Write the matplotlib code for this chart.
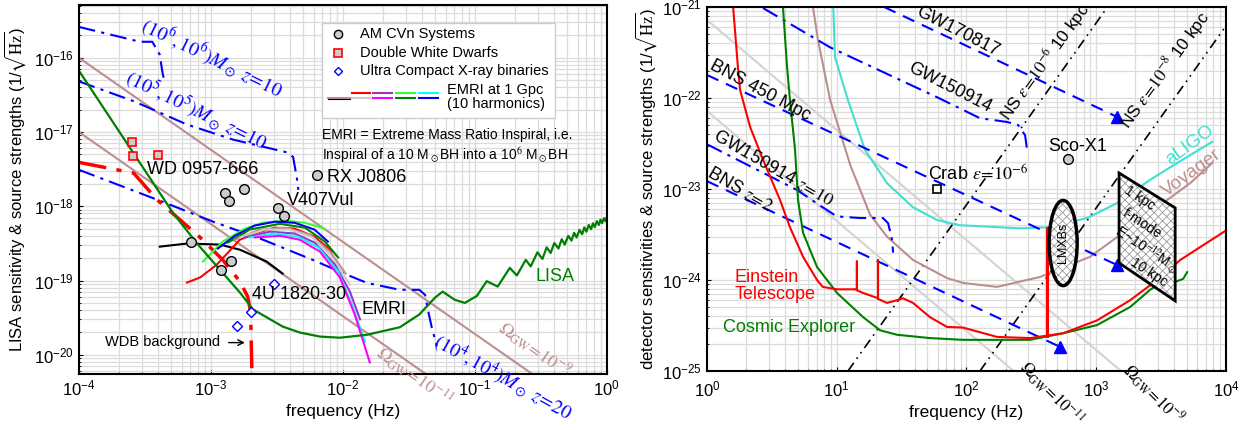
import matplotlib
matplotlib.use('Agg')
import matplotlib.pyplot as plt
from matplotlib.patches import Rectangle, Ellipse, Polygon
from matplotlib.lines import Line2D
from matplotlib.ticker import NullFormatter

plt.rcParams['font.family'] = ['Liberation Sans', 'DejaVu Sans']
plt.rcParams['mathtext.fontset'] = 'stix'
plt.rcParams['hatch.linewidth'] = 0.6

# ---------------- left panel: LISA band ----------------
lisa_f = [1e-4, 5.15e-4, 7.8e-4, 1.17e-3, 1.66e-3, 2.08e-3, 3.5e-3, 4.7e-3, 6.7e-3, 9.5e-3,
          1.52e-2, 2.7e-2, 3.8e-2, 5.0e-2, 0.057, 0.0705, 0.084, 0.1035, 0.123, 0.149, 0.184,
          0.208, 0.243, 0.265, 0.298, 0.325, 0.35, 0.375, 0.40, 0.43, 0.455, 0.48, 0.51, 0.54,
          0.565, 0.59, 0.62, 0.65, 0.675, 0.70, 0.73, 0.76, 0.785, 0.81, 0.84, 0.87, 0.895,
          0.92, 0.95, 0.975, 1.0]
lisa_h = [6.7e-17, 8.2e-19, 3.2e-19, 1.4e-19, 6.9e-20, 4.1e-20, 2.4e-20, 2.0e-20, 1.76e-20, 1.7e-20,
          1.86e-20, 2.35e-20, 3.5e-20, 5.9e-20, 7.1e-20, 5.5e-20, 5.0e-20, 6.2e-20, 9.8e-20, 8.3e-20, 1.48e-19,
          1.17e-19, 1.9e-19, 1.55e-19, 2.4e-19, 1.95e-19, 2.8e-19, 2.35e-19, 3.2e-19, 2.7e-19, 3.6e-19, 3.05e-19, 4.0e-19, 3.45e-19,
          4.4e-19, 3.8e-19, 4.8e-19, 4.2e-19, 5.2e-19, 4.55e-19, 5.6e-19, 4.9e-19, 5.9e-19, 5.25e-19, 6.3e-19, 5.6e-19, 6.6e-19,
          5.95e-19, 6.9e-19, 6.3e-19, 7.2e-19]

omega_left_f = [1e-4, 1.0]
omega9_left_h = [1e-16, 1.1e-21]
omega11_left_h = [1e-17, 1.1e-22]

mbh6_f = [1e-4, 2.9e-4, 3.6e-4, 4.1e-4, 4.3e-4, 4.45e-4]
mbh6_h = [2.6e-16, 1.64e-16, 1.64e-16, 1.1e-16, 6.3e-17, 4.8e-17]
mbh5_f = [1e-4, 2.6e-4, 6.6e-4, 1.47e-3, 3.8e-3, 4.2e-3, 4.5e-3, 4.6e-3]
mbh5_h = [4.8e-17, 2.6e-17, 1.26e-17, 7.9e-18, 5.3e-18, 4.6e-18, 2.3e-18, 1.66e-18]
mbh4_f = [1e-4, 4.3e-4, 1.04e-3, 2.43e-3, 5.9e-3, 1.07e-2, 1.52e-2, 2.7e-2, 3.8e-2, 4.2e-2, 4.4e-2, 4.7e-2, 5.15e-2]
mbh4_h = [3.1e-18, 1.15e-18, 6.2e-19, 3.6e-19, 1.9e-19, 1.2e-19, 9.3e-20, 7.5e-20, 7.5e-20, 6.4e-20, 4.1e-20, 2.4e-20, 1.3e-20]

wdb_f = [1e-4, 2.6e-4, 3.9e-4, 8.3e-4, 1.23e-3, 1.66e-3, 1.9e-3, 2.0e-3, 2.02e-3, 2.05e-3]
wdb_h = [3.9e-18, 2.8e-18, 1.23e-18, 3.8e-19, 1.9e-19, 9.7e-20, 6.1e-20, 3.8e-20, 1.6e-20, 5e-21]

# EMRI harmonics
emri_black_f = [4.1e-4, 6.6e-4, 1.17e-3, 1.66e-3, 2.65e-3, 3.5e-3]
emri_black_h = [2.86e-19, 3.15e-19, 3.05e-19, 2.6e-19, 1.8e-19, 1.24e-19]
emri_red_f = [6.6e-4, 8.3e-4, 1.11e-3, 1.66e-3, 2.23e-3, 3.05e-3, 4.3e-3, 6.1e-3, 8.3e-3]
emri_red_h = [9.4e-20, 1.1e-19, 1.64e-19, 3.55e-19, 4.4e-19, 5.15e-19, 5.0e-19, 3.9e-19, 2.45e-19]
emri_lime_f = [8.7e-4, 1.23e-3, 1.81e-3, 2.48e-3, 3.64e-3, 5.15e-3, 7.3e-3]
emri_lime_h = [1.8e-19, 3.35e-19, 5.0e-19, 6.0e-19, 6.4e-19, 6.0e-19, 5.0e-19]
emri_blue_f = [1.13e-3, 1.52e-3, 2.15e-3, 3.05e-3, 4.3e-3, 6.1e-3, 7.7e-3]
emri_blue_h = [2.7e-19, 4.0e-19, 5.5e-19, 6.2e-19, 6.0e-19, 4.85e-19, 3.35e-19]
emri_green_f = [1.35e-3, 1.97e-3, 3.33e-3, 5.15e-3, 7.3e-3, 9.2e-3]
emri_green_h = [3.25e-19, 4.85e-19, 5.8e-19, 5.15e-19, 3.35e-19, 2.05e-19]
emri_brown_f = [1.52e-3, 2.35e-3, 3.64e-3, 5.6e-3, 8.0e-3, 1.05e-2]
emri_brown_h = [3.55e-19, 4.85e-19, 5.15e-19, 4.15e-19, 2.45e-19, 1.24e-19]
emri_gray_f = [1.66e-3, 2.56e-3, 3.96e-3, 5.9e-3, 8.3e-3, 1.13e-2]
emri_gray_h = [3.8e-19, 4.85e-19, 4.85e-19, 3.8e-19, 2.05e-19, 8.8e-20]
emri_purple_f = [1.81e-3, 2.8e-3, 4.3e-3, 6.1e-3, 8.7e-3, 1.13e-2, 1.35e-2]
emri_purple_h = [3.8e-19, 4.55e-19, 4.3e-19, 3.25e-19, 1.64e-19, 7.1e-20, 3.0e-20]
emri_cyan_f = [1.97e-3, 3.05e-3, 4.56e-3, 6.5e-3, 9.2e-3, 1.17e-2, 1.47e-2]
emri_cyan_h = [3.8e-19, 4.3e-19, 3.9e-19, 2.8e-19, 1.32e-19, 4.75e-20, 1.5e-20]
emri_magenta_f = [2.15e-3, 3.33e-3, 4.7e-3, 6.7e-3, 9.5e-3, 1.23e-2, 1.6e-2]
emri_magenta_h = [3.8e-19, 4.0e-19, 3.55e-19, 2.45e-19, 1.1e-19, 3.5e-20, 7.9e-21]

amcvn_f = [7.05e-4, 1.19e-3, 1.42e-3, 1.28e-3, 1.37e-3, 1.78e-3, 3.2e-3, 3.6e-3, 6.35e-3]
amcvn_h = [3.3e-19, 1.4e-19, 1.86e-19, 1.52e-18, 1.19e-18, 1.72e-18, 9.6e-19, 7.5e-19, 2.66e-18]
dwd_f = [2.52e-4, 2.56e-4, 3.97e-4]
dwd_h = [7.4e-18, 4.7e-18, 4.9e-18]
ucxb_f = [3.0e-3, 2.0e-3, 1.57e-3]
ucxb_h = [9.1e-20, 3.8e-20, 2.45e-20]

left_xticks = [1e-4, 1e-3, 1e-2, 1e-1, 1.0]
left_yticks = [1e-20, 1e-19, 1e-18, 1e-17, 1e-16]

# ---------------- right panel: ground based ----------------
et_f = [1.59, 1.73, 1.8, 2.15, 2.7, 3.65, 4.36, 5.5, 7.05, 7.8, 10.05, 14.3, 14.3, 14.3, 16.0,
        20.8, 20.8, 20.8, 24.4, 29.2, 32.4, 38.7, 52.4, 70.8, 94, 172, 309, 556, 1016, 1825,
        2950, 4440, 1e4]
et_h = [1e-21, 2.2e-22, 1.22e-22, 4.8e-23, 2.1e-23, 7.6e-24, 3.8e-24, 1.8e-24, 1.0e-24, 8.4e-25,
        7.9e-25, 7.9e-25, 1.6e-24, 7.7e-25, 7.2e-25, 6.3e-25, 1.66e-24, 6.2e-25, 5.6e-25, 6.0e-25,
        6.3e-25, 5.6e-25, 3.9e-25, 3.05e-25, 3.0e-25, 2.37e-25, 2.3e-25, 2.6e-25, 3.6e-25, 6.0e-25,
        1.0e-24, 1.66e-24, 3.5e-24]
ce_f = [3.85, 4.14, 4.36, 4.77, 5.03, 5.5, 7.05, 10.05, 16.0, 21.6, 29.2, 52.4, 94, 309, 556,
        1016, 1825, 2600, 3400, 4200, 4680, 5020]
ce_h = [1e-21, 2.2e-22, 9.5e-23, 2.7e-23, 7.6e-24, 3.3e-24, 1.39e-24, 7.2e-25, 3.9e-25, 2.8e-25,
        2.5e-25, 2.3e-25, 2.2e-25, 2.2e-25, 2.6e-25, 3.2e-25, 5.05e-25, 7.8e-25, 1.0e-24, 9.7e-25,
        1.03e-24, 1.22e-24]
aligo_f = [9.4, 9.7, 12.2, 16.5, 24.4, 38.7, 59.3, 89, 259, 426, 851, 1450, 2600, 4200, 7830]
aligo_h = [1e-21, 2.8e-22, 9.5e-23, 2.7e-23, 1.16e-23, 6.3e-24, 4.56e-24, 4.0e-24, 3.7e-24,
           3.8e-24, 4.8e-24, 7.0e-24, 1.26e-23, 1.93e-23, 3.3e-23]
voy_f = [6.56, 7.17, 8.9, 12.7, 18.1, 24.4, 38.7, 70.8, 94, 172, 369, 897, 1610, 2950, 5300, 7830]
voy_h = [1e-21, 4.3e-22, 9.5e-23, 1.84e-23, 5.2e-24, 3.0e-24, 1.66e-24, 1.05e-24, 9.3e-25,
         8.4e-25, 1.08e-24, 1.8e-24, 3.3e-24, 6.3e-24, 1.16e-23, 1.93e-23]

omega_right_f = [1.0, 1e4]
omega9_right_h = [7.2e-22, 1.05e-26]
omega11_right_h = [7.2e-23, 1.05e-27]

gw170817_f = [23.2, 1450]
gw170817_h = [1e-21, 6.2e-23]
bns450_f = [1.0, 1450]
bns450_h = [1.79e-22, 1.46e-24]
bnsz2_f = [1.0, 527]
bnsz2_h = [1.22e-23, 1.84e-25]
gw150914_f = [2.7, 8.9, 59.3, 127, 206, 250, 283, 293]
gw150914_h = [9.75e-22, 3.6e-22, 1.02e-22, 6.0e-23, 5.45e-23, 5.05e-23, 3.9e-23, 2.7e-23]
gw150914z_f = [1.0, 4.94, 7.3, 10.0, 15.1, 22.7, 24.9, 26.7, 27.2]
gw150914z_h = [3.1e-23, 9.75e-24, 6.7e-24, 5.0e-24, 4.8e-24, 4.8e-24, 4.2e-24, 2.75e-24, 2.0e-24]
tri_f = [1450, 1450, 527]
tri_h = [6.2e-23, 1.46e-24, 1.84e-25]

ns6_f = [12.2, 1350]
ns6_h = [1e-25, 1.22e-21]
ns8_f = [127, 1e4]
ns8_h = [1e-25, 6.2e-22]

lmxb_line_f = [418, 418]
lmxb_line_h = [3.7e-24, 2.4e-25]
lmxb_f, lmxb_h = 556, 2.55e-24
crab_f, crab_h = 59.3, 1.0e-23
sco_f, sco_h = 607, 2.14e-23
fmode_f = [1500, 4060, 4060, 1500]
fmode_h = [1.5e-23, 6.2e-24, 5.9e-25, 1.54e-24]

right_xticks = [1, 10, 100, 1000, 1e4]
right_yticks = [1e-25, 1e-24, 1e-23, 1e-22, 1e-21]

DD = (8, 3, 1.5, 3)     # dash-dot
DASH = (6, 4)
DDD = (6, 3, 1, 3, 1, 3)

fig = plt.figure(figsize=(12.52, 4.3), dpi=100)
ax1 = fig.add_axes([0.063, 0.130, 0.4217, 0.858])
ax2 = fig.add_axes([0.5647, 0.1372, 0.4145, 0.8465])

for ax in (ax1, ax2):
    ax.set_xscale('log')
    ax.set_yscale('log')
    ax.grid(True, which='both', color='#dcdcdc', lw=0.9)
    ax.set_axisbelow(True)
    for s in ax.spines.values():
        s.set_linewidth(1.5)
    ax.set_xlabel('frequency (Hz)', fontsize=12.5)

ax1.set_xticks(left_xticks)
ax1.set_yticks(left_yticks)
ax2.set_xticks(right_xticks)
ax2.set_yticks(right_yticks)
for ax in (ax1, ax2):
    ax.xaxis.set_minor_formatter(NullFormatter())
    ax.yaxis.set_minor_formatter(NullFormatter())
    ax.tick_params(which='both', direction='in', labelsize=12)
    ax.tick_params(which='major', length=3)
    ax.tick_params(which='minor', length=1.5)
ax2.tick_params(axis='x', which='major', pad=6)

# ---------- left panel ----------
ax1.set_xlim(1e-4, 1)
ax1.set_ylim(5.5e-21, 5.1e-16)
ax1.set_ylabel(r'LISA sensitivity & source strengths (1/$\sqrt{\mathrm{Hz}}$)', fontsize=12, labelpad=4)

ax1.plot(omega_left_f, omega9_left_h, color='rosybrown', lw=1.5)
ax1.plot(omega_left_f, omega11_left_h, color='rosybrown', lw=1.5)
ax1.plot(mbh6_f, mbh6_h, color='blue', lw=1.5, dashes=DD)
ax1.plot(mbh5_f, mbh5_h, color='blue', lw=1.5, dashes=DD)
ax1.plot(mbh4_f, mbh4_h, color='blue', lw=1.5, dashes=DD)
ax1.plot(wdb_f, wdb_h, color='red', lw=2.5, dashes=DD)

emri = [(emri_black_f, emri_black_h, 'black'),
        (emri_red_f, emri_red_h, 'red'),
        (emri_lime_f, emri_lime_h, '#33ff33'),
        (emri_blue_f, emri_blue_h, 'blue'),
        (emri_green_f, emri_green_h, 'green'),
        (emri_brown_f, emri_brown_h, 'rosybrown'),
        (emri_gray_f, emri_gray_h, '#cccccc'),
        (emri_purple_f, emri_purple_h, '#9933cc'),
        (emri_cyan_f, emri_cyan_h, 'cyan'),
        (emri_magenta_f, emri_magenta_h, 'magenta')]
for f, h, c in emri:
    ax1.plot(f, h, color=c, lw=1.5)

ax1.plot(lisa_f, lisa_h, color='green', lw=1.6)

ax1.plot(amcvn_f, amcvn_h, 'o', ms=7, mfc='#cccccc', mec='k', mew=1)
ax1.plot(dwd_f, dwd_h, 's', ms=6, mfc='#cccccc', mec='red', mew=1.2)
ax1.plot(ucxb_f, ucxb_h, 'D', ms=5, mfc='white', mec='blue', mew=1)

ax1.text(3.27e-4, 3.1e-18, 'WD 0957-666', fontsize=13, va='center')
ax1.text(7.6e-3, 2.43e-18, 'RX J0806', fontsize=13, va='center')
ax1.text(3.77e-3, 1.19e-18, 'V407Vul', fontsize=13, va='center')
ax1.text(2.05e-3, 6.45e-20, '4U 1820-30', fontsize=13, va='center')
ax1.text(1.39e-2, 4.1e-20, 'EMRI', fontsize=13, va='center')
ax1.text(0.404, 1.13e-19, 'LISA', fontsize=13, va='center', ha='center', color='green')
ax1.text(1.57e-4, 1.5e-20, 'WDB background', fontsize=10.5, va='center')
ax1.annotate('', xy=(1.9e-3, 1.46e-20), xytext=(1.3e-3, 1.46e-20),
             arrowprops=dict(arrowstyle='->', color='k', lw=1))

ax1.text(1.02e-3, 1e-16, r'$(10^6,10^6)M_\odot\ z\!=\!10$', color='blue', fontsize=14,
         rotation=-26, ha='center', va='center', rotation_mode='anchor')
ax1.text(7.7e-4, 1.94e-17, r'$(10^5,10^5)M_\odot\ z\!=\!10$', color='blue', fontsize=14,
         rotation=-26, ha='center', va='center', rotation_mode='anchor')
ax1.text(0.163, 4.9e-21, r'$(10^4,10^4)M_\odot\ z\!=\!20$', color='blue', fontsize=14,
         rotation=-29, ha='center', va='center', rotation_mode='anchor', clip_on=False)
ax1.text(0.285, 1.17e-20, r'$\Omega_{\rm GW}\!=\!10^{-9}$', color='rosybrown', fontsize=13,
         rotation=-35, ha='center', va='center', rotation_mode='anchor')
ax1.text(3.5e-2, 5.1e-21, r'$\Omega_{\rm GW}\!=\!10^{-11}$', color='rosybrown', fontsize=13,
         rotation=-35, ha='center', va='center', rotation_mode='anchor', clip_on=False)

# hand made legend box
T = ax1.transAxes
ax1.add_patch(Rectangle((0.460, 0.694), 0.442, 0.257, transform=T, facecolor='white',
                        edgecolor='#cccccc', lw=1, zorder=5))
ax1.plot([0.4905], [0.921], 'o', ms=6, mfc='#cccccc', mec='k', transform=T, zorder=6)
ax1.plot([0.4905], [0.870], 's', ms=5.5, mfc='#cccccc', mec='red', mew=1.2, transform=T, zorder=6)
ax1.plot([0.4905], [0.821], 'D', ms=4.5, mfc='white', mec='blue', transform=T, zorder=6)
ax1.text(0.532, 0.921, 'AM CVn Systems', transform=T, fontsize=10.5, va='center', zorder=6)
ax1.text(0.532, 0.870, 'Double White Dwarfs', transform=T, fontsize=10.5, va='center', zorder=6)
ax1.text(0.532, 0.821, 'Ultra Compact X-ray binaries', transform=T, fontsize=10.5, va='center', zorder=6)
seg_x = [(0.517, 0.551), (0.557, 0.593), (0.600, 0.636), (0.644, 0.680)]
top_c = ['red', '#9933cc', '#33ff33', 'cyan']
bot_c = ['#cccccc', 'magenta', 'green', 'blue']
ax1.add_line(Line2D([0.4716, 0.5133], [0.748, 0.748], color='rosybrown', lw=1.5, transform=T, zorder=6))
ax1.add_line(Line2D([0.4716, 0.5133], [0.745, 0.745], color='black', lw=0.8, transform=T, zorder=6))
for (x0, x1), ct, cb in zip(seg_x, top_c, bot_c):
    ax1.add_line(Line2D([x0, x1], [0.7615, 0.7615], color=ct, lw=1.5, transform=T, zorder=6))
    ax1.add_line(Line2D([x0, x1], [0.748, 0.748], color=cb, lw=1.5, transform=T, zorder=6))
ax1.text(0.697, 0.770, 'EMRI at 1 Gpc', transform=T, fontsize=10.5, va='center', zorder=6)
ax1.text(0.697, 0.732, '(10 harmonics)', transform=T, fontsize=10.5, va='center', zorder=6)
ax1.text(0.460, 0.648, 'EMRI = Extreme Mass Ratio Inspiral, i.e.', transform=T, fontsize=10, va='center')
ax1.text(0.460, 0.593, r'Inspiral of a 10 M$_\odot$BH into a 10$^6$ M$_\odot$BH', transform=T,
         fontsize=10, va='center')

# ---------- right panel ----------
ax2.set_xlim(1, 1e4)
ax2.set_ylim(1e-25, 1e-21)
ax2.set_ylabel(r'detector sensitivities & source strengths (1/$\sqrt{\mathrm{Hz}}$)', fontsize=12, labelpad=2)

ax2.plot(omega_right_f, omega9_right_h, color='#d3d3d3', lw=1.5)
ax2.plot(omega_right_f, omega11_right_h, color='#d3d3d3', lw=1.5)
ax2.plot(ns6_f, ns6_h, color='k', lw=1.2, dashes=DDD)
ax2.plot(ns8_f, ns8_h, color='k', lw=1.2, dashes=DDD)
ax2.plot(voy_f, voy_h, color='rosybrown', lw=1.5)
ax2.plot(aligo_f, aligo_h, color='turquoise', lw=1.5)
ax2.plot(gw170817_f, gw170817_h, color='blue', lw=1.5, dashes=DASH)
ax2.plot(bns450_f, bns450_h, color='blue', lw=1.5, dashes=DASH)
ax2.plot(bnsz2_f, bnsz2_h, color='blue', lw=1.5, dashes=DASH)
ax2.plot(gw150914_f, gw150914_h, color='blue', lw=1.5, dashes=DD)
ax2.plot(gw150914z_f, gw150914z_h, color='blue', lw=1.5, dashes=DD)
ax2.plot(tri_f, tri_h, '^', ms=8, color='blue', clip_on=False)
ax2.plot(ce_f, ce_h, color='green', lw=1.5)
ax2.plot(et_f, et_h, color='red', lw=1.5)
ax2.plot(lmxb_line_f, lmxb_line_h, color='red', lw=2.2)

ax2.plot([crab_f], [crab_h], 's', ms=6, mfc='white', mec='k', mew=1.2)
ax2.plot([sco_f], [sco_h], 'o', ms=7, mfc='#cccccc', mec='k', mew=1)

ax2.add_patch(Polygon(list(zip(fmode_f, fmode_h)), closed=True, facecolor='white',
                      edgecolor='#999999', hatch='xxxx', lw=0, zorder=5))
ax2.add_patch(Polygon(list(zip(fmode_f, fmode_h)), closed=True, fill=False,
                      edgecolor='k', lw=2, zorder=6))
cx, cy = ax2.transAxes.inverted().transform(ax2.transData.transform((lmxb_f, lmxb_h)))
ax2.add_patch(Ellipse((cx, cy), 0.054, 0.234, transform=ax2.transAxes, facecolor='white',
                      edgecolor='#999999', hatch='xxxx', lw=0, zorder=5))
ax2.add_patch(Ellipse((cx, cy), 0.054, 0.234, transform=ax2.transAxes, fill=False,
                      edgecolor='k', lw=2.5, zorder=6))
ax2.text(lmxb_f, lmxb_h, 'LMXBs', rotation=90, ha='center', va='center', fontsize=9, zorder=7)

for f, h, s in [(2180, 7.96e-24, '1 kpc'), (2260, 4.2e-24, 'f-mode'),
                (2430, 2.14e-24, r'E~10$^{-12}$M$_\odot$'), (2560, 1.22e-24, '10 kpc')]:
    ax2.text(f, h, s, rotation=-33, ha='center', va='center', fontsize=10,
             rotation_mode='anchor', zorder=7)

ax2.text(86, 5.3e-22, 'GW170817', fontsize=13, rotation=-27, ha='center', va='center', rotation_mode='anchor')
ax2.text(74.8, 1.29e-22, 'GW150914', fontsize=13, rotation=-27, ha='center', va='center', rotation_mode='anchor')
ax2.text(2.56, 1.22e-22, 'BNS 450 Mpc', fontsize=13, rotation=-28, ha='center', va='center', rotation_mode='anchor')
ax2.text(3.23, 1.7e-23, r'GW150914 $z\!=\!10$', fontsize=13, rotation=-30, ha='center', va='center',
         rotation_mode='anchor')
ax2.text(1.8, 9.75e-24, r'BNS $z\!=\!2$', fontsize=13, rotation=-30, ha='center', va='center',
         rotation_mode='anchor')
ax2.text(50.6, 1.43e-23, r'Crab $\varepsilon\!=\!10^{-6}$', fontsize=13, va='center')
ax2.text(725, 2.9e-23, 'Sco-X1', fontsize=13, ha='center', va='center')
ax2.text(1.64, 8.6e-25, 'Einstein\nTelescope', fontsize=13, va='center', color='red', linespacing=1.0)
ax2.text(1.33, 3.0e-25, 'Cosmic Explorer', fontsize=13, va='center', color='green')
ax2.text(5300, 3.05e-23, 'aLIGO', fontsize=13.5, rotation=36, ha='center', va='center',
         color='turquoise', rotation_mode='anchor')
ax2.text(5490, 1.5e-23, 'Voyager', fontsize=13.5, rotation=36, ha='center', va='center',
         color='rosybrown', rotation_mode='anchor')
ax2.text(404, 2.49e-22, r'NS $\varepsilon\!=\!10^{-6}$ 10 kpc', fontsize=12.5, rotation=54, ha='center',
         va='center', rotation_mode='anchor', clip_on=False)
ax2.text(3400, 2.03e-22, r'NS $\varepsilon\!=\!10^{-8}$ 10 kpc', fontsize=12.5, rotation=54, ha='center',
         va='center', rotation_mode='anchor', clip_on=False)
ax2.text(457, 5.6e-26, r'$\Omega_{\rm GW}\!=\!10^{-11}$', fontsize=12, rotation=-45, ha='center',
         va='center', rotation_mode='anchor', clip_on=False)
ax2.text(2750, 5.6e-26, r'$\Omega_{\rm GW}\!=\!10^{-9}$', fontsize=12, rotation=-45, ha='center',
         va='center', rotation_mode='anchor', clip_on=False)

fig.savefig('out.png', dpi=100)
